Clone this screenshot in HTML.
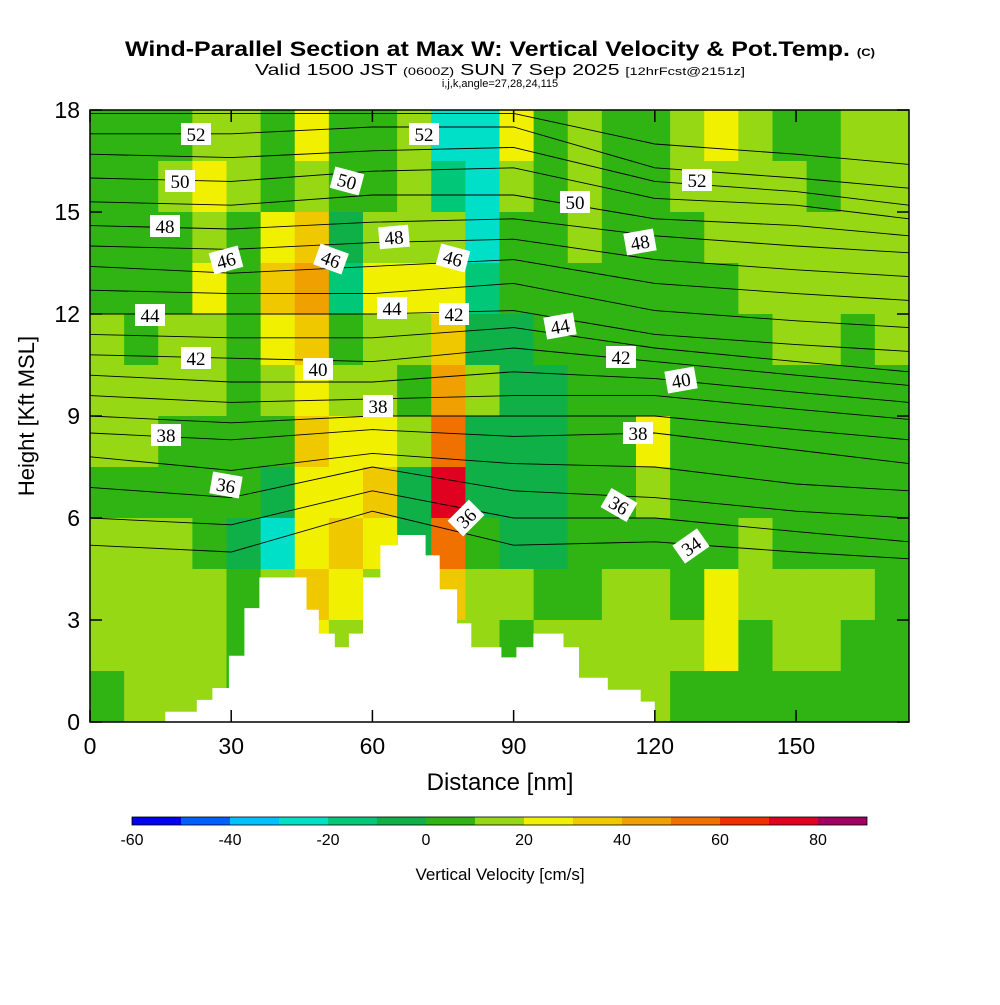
<!DOCTYPE html>
<html><head><meta charset="utf-8"><style>
body{margin:0;background:#fff;}
svg text{font-family:"Liberation Sans",sans-serif;}
</style></head><body>
<svg id="chart" width="1000" height="1000" viewBox="0 0 1000 1000" xmlns="http://www.w3.org/2000/svg">
<rect width="1000" height="1000" fill="#fff"/>
<text x="500" y="56" text-anchor="middle" font-size="21" font-weight="bold" textLength="750" lengthAdjust="spacingAndGlyphs">Wind-Parallel Section at Max W: Vertical Velocity &amp; Pot.Temp. <tspan font-size="11">(C)</tspan></text>
<text x="500" y="75" text-anchor="middle" font-size="16" textLength="490" lengthAdjust="spacingAndGlyphs">Valid 1500 JST <tspan font-size="11">(0600Z)</tspan> SUN 7 Sep 2025 <tspan font-size="11">[12hrFcst@2151z]</tspan></text>
<text x="500" y="87" text-anchor="middle" font-size="11">i,j,k,angle=27,28,24,115</text>
<g id="plot"></g>
<g id="axes"></g>
<g id="cbar"></g>
<text x="500" y="790" text-anchor="middle" font-size="24">Distance [nm]</text>
<text transform="translate(34,416) rotate(-90)" text-anchor="middle" font-size="22">Height [Kft MSL]</text>
<text x="500" y="880" text-anchor="middle" font-size="17">Vertical Velocity [cm/s]</text>
</svg>
<script>
// ---- data ----
const colEdgesNm = [0,7.25,14.5,21.75,29,36.25,43.5,50.75,58,65.25,72.5,79.75,87,94.25,101.5,108.75,116,123.25,130.5,137.75,145,152.25,159.5,166.75,174];
const rowEdgesKft = [18,16.5,15,13.5,12,10.5,9,7.5,6,4.5,3,1.5,0];
const wGrid = [
[5,5,5,5,15,15,15,5,15,15,15,5],
[5,5,5,5,5,15,15,5,15,15,15,15],
[5,15,5,5,15,15,5,5,15,15,15,15],
[15,25,15,25,15,15,5,5,5,15,15,15],
[15,15,5,5,5,5,5,5,-5,5,5,5],
[5,5,25,35,25,15,5,-5,-25,15,15,15],
[25,15,35,45,35,25,35,25,25,35,25,25],
[5,5,-5,-15,5,15,25,25,35,25,15,15],
[5,5,15,25,15,15,25,35,25,15,15,15],
[15,15,15,25,15,5,15,-5,-5,5,5,5],
[-25,-15,15,25,35,45,55,75,55,35,15,15],
[-25,-25,-25,-15,-5,15,-5,-5,5,15,15,15],
[25,15,5,5,-5,-5,-5,-5,-5,15,5,5],
[5,5,5,5,5,-5,-5,-5,-5,5,15,15],
[15,15,15,5,5,5,5,5,5,5,15,15],
[5,5,5,5,5,5,5,5,5,15,15,15],
[5,5,5,5,5,5,25,15,5,15,15,15],
[15,15,5,5,5,5,5,5,5,5,15,5],
[25,15,15,5,5,5,5,5,5,25,25,5],
[15,15,15,15,5,5,5,5,15,15,5,5],
[5,15,15,15,15,5,5,5,5,15,15,5],
[5,5,15,15,15,5,5,5,5,15,15,5],
[15,15,15,15,5,5,5,5,5,15,5,5],
[15,15,15,15,15,5,5,5,5,5,5,5]];
const levelEdges = [-60,-50,-40,-30,-20,-10,0,10,20,30,40,50,60,70,80,90];
const levelColors = ["#0000f0","#0060ff","#00c0ff","#00e0c8","#00c878","#10b048","#2fb414","#96d814","#f0f000","#f0c800","#f0a000","#f07000","#f03000","#e00020","#a00060","#600090"];
const cbarTicks = [-60,-40,-20,0,20,40,60,80];
const xTicks = [0,30,60,90,120,150];
const yTicks = [0,3,6,9,12,15,18];
const thetaX = [0,30,60,90,120,150,174];
const thetaLevels = [53,52,51,50,49,48,47,46,45,44,43,42,41,40,39,38,37,36,35,34];
const thetaH = [
[17.9,17.9,17.9,17.9,17.0,16.7,16.4],
[17.3,17.3,17.5,17.5,16.3,16.0,15.7],
[16.7,16.6,16.8,16.9,15.9,15.6,15.2],
[16.0,15.9,16.2,16.3,15.4,15.2,14.8],
[15.3,15.2,15.5,15.5,14.8,14.6,14.3],
[14.6,14.5,14.7,14.8,14.3,14.0,13.8],
[14.0,13.9,14.1,14.2,13.6,13.3,13.1],
[13.4,13.2,13.4,13.6,12.9,12.6,12.4],
[12.7,12.6,12.6,12.9,12.1,11.8,11.6],
[12.0,12.0,12.0,12.1,11.4,11.1,10.9],
[11.4,11.3,11.3,11.6,11.0,10.6,10.3],
[10.8,10.7,10.6,11.0,10.6,10.2,9.9],
[10.2,10.0,10.0,10.3,10.1,9.7,9.4],
[9.6,9.4,9.5,9.6,9.6,9.2,8.9],
[9.0,8.8,9.0,9.0,9.0,8.6,8.3],
[8.5,8.3,8.6,8.4,8.5,8.0,7.6],
[7.8,7.4,7.9,7.6,7.5,7.0,6.8],
[6.9,6.6,7.5,6.8,6.6,6.2,6.0],
[6.0,5.8,6.8,6.0,6.0,5.6,5.3],
[5.2,5.0,6.2,5.2,5.3,5.0,4.8]];
const terrainX = [0,16,22.7,26,29.5,32.8,36,46,48.6,52,55,58,61.7,65.3,71.3,74.3,78,81,87.4,90.6,94.2,100.6,103.9,110,117,120,174];
const terrainH = [0,0.3,0.65,1.0,1.95,3.35,4.25,3.3,2.6,2.2,2.6,4.25,5.2,5.5,4.9,3.9,2.9,2.2,1.9,2.2,2.6,2.2,1.3,0.95,0.6,0,0];
const labelText = ["52","50","48","46","44","42","38","36","50","46","48","44","40","38","52","46","42","36","50","44","48","42","40","38","36","34","52"];
const labelPx = [[196,134],[180,181],[165,226],[226,260],[150,315],[196,358],[166,435],[226,485],[347,181],[331,259],[394,237],[392,308],[318,369],[378,406],[424,134],[453,258],[454,314],[466,518],[575,202],[560,326],[640,242],[621,357],[681,380],[638,433],[619,505],[691,546],[697,180]];
const labelRot = [0,0,0,-15,0,0,0,10,15,20,-5,0,0,0,0,15,0,-45,0,-10,-10,0,-10,0,30,-35,0];
// ---- axes ----
const X0=90,X1=909,Y0=722,Y1=110;
const xs = v => X0 + v/174*(X1-X0);
const ys = v => Y0 - v/18*(Y0-Y1);
const NS="http://www.w3.org/2000/svg";
function mk(tag, attrs, parent){const e=document.createElementNS(NS,tag);for(const k in attrs)e.setAttribute(k,attrs[k]);parent.appendChild(e);return e;}
function colorFor(v){for(let i=0;i<levelEdges.length-1;i++){if(v<levelEdges[i+1])return levelColors[i];}return levelColors[levelColors.length-1];}
const plot=document.getElementById('plot');
const cl=mk('clipPath',{id:'pc'},plot);mk('rect',{x:X0,y:Y1,width:X1-X0,height:Y0-Y1},cl);
const g=mk('g',{'clip-path':'url(#pc)'},plot);
for(let c=0;c<wGrid.length;c++){for(let r=0;r<wGrid[c].length;r++){
 const x0=xs(colEdgesNm[c]),x1=xs(colEdgesNm[c+1]),y0=ys(rowEdgesKft[r]),y1=ys(rowEdgesKft[r+1]);
 const cell=mk('rect',{x:x0,y:y0,width:x1-x0+0.5,height:y1-y0+0.5,fill:colorFor(wGrid[c][r])},g);
 
 
}}
for(let i=0;i<thetaLevels.length;i++){
 let d='';
 for(let j=0;j<thetaX.length;j++){d+=(j?'L':'M')+xs(thetaX[j]).toFixed(1)+','+ys(thetaH[i][j]).toFixed(1);}
 const p=mk('path',{d:d,fill:'none',stroke:'#000','stroke-width':0.9},g);
 
 
}
let td='M'+xs(terrainX[0])+','+ys(0);
for(let i=0;i<terrainX.length;i++){td+='L'+xs(terrainX[i]).toFixed(1)+','+ys(i?terrainH[i-1]:0).toFixed(1)+'L'+xs(terrainX[i]).toFixed(1)+','+ys(terrainH[i]).toFixed(1);}
td+='L'+xs(174)+','+ys(0)+'Z';
const terr=mk('path',{d:td,fill:'#fff'},g);


for(let i=0;i<labelText.length;i++){
 const [lx,ly]=labelPx[i];
 const lg=mk('g',{transform:`translate(${lx},${ly}) rotate(${labelRot[i]})`},g);
 
 
 mk('rect',{x:-15,y:-11,width:30,height:22,fill:'#fff'},lg);
 const t=mk('text',{x:0,y:7,'text-anchor':'middle','font-size':19,style:'font-family:"Liberation Serif",serif'},lg);
 t.textContent=labelText[i];
}
const ax=document.getElementById('axes');
mk('rect',{x:X0,y:Y1,width:X1-X0,height:Y0-Y1,fill:'none',stroke:'#000','stroke-width':1.5},ax);
xTicks.forEach(v=>{
 mk('line',{x1:xs(v),x2:xs(v),y1:Y0,y2:Y0-12,stroke:'#000','stroke-width':1.5},ax);
 mk('line',{x1:xs(v),x2:xs(v),y1:Y1,y2:Y1+12,stroke:'#000','stroke-width':1.5},ax);
 const t=mk('text',{x:xs(v),y:754,'text-anchor':'middle','font-size':23},ax);
 
 
 t.textContent=v;
});
yTicks.forEach(v=>{
 mk('line',{x1:X0,x2:X0+12,y1:ys(v),y2:ys(v),stroke:'#000','stroke-width':1.5},ax);
 mk('line',{x1:X1,x2:X1-12,y1:ys(v),y2:ys(v),stroke:'#000','stroke-width':1.5},ax);
 const t=mk('text',{x:80,y:ys(v)+8,'text-anchor':'end','font-size':23},ax);
 
 
 t.textContent=v;
});
const cb=document.getElementById('cbar');
const cx=v=>132+(v+60)*4.9;
for(let i=0;i<levelColors.length-1;i++){
 const r=mk('rect',{x:cx(levelEdges[i]),y:817,width:cx(levelEdges[i+1])-cx(levelEdges[i]),height:8,fill:levelColors[i]},cb);
 
 
}
mk('rect',{x:cx(-60),y:817,width:cx(90)-cx(-60),height:8,fill:'none',stroke:'#000','stroke-width':0.8},cb);
cbarTicks.forEach(v=>{
 const t=mk('text',{x:cx(v),y:845,'text-anchor':'middle','font-size':16},cb);
 
 
 t.textContent=v;
});
</script>
</body></html>
